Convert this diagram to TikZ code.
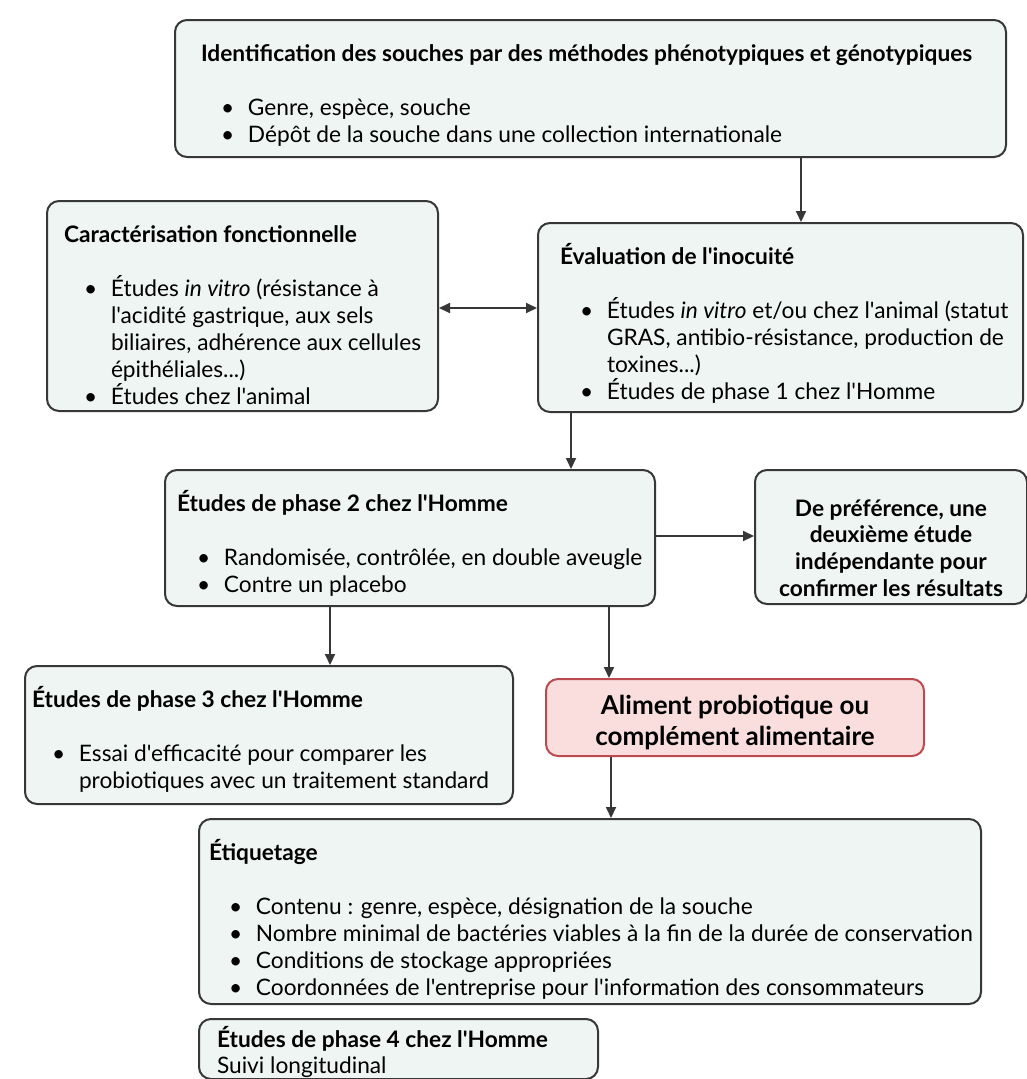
\documentclass[tikz,border=0pt]{standalone}
\usepackage{fontspec}
\setmainfont{Lato}[Ligatures=TeXOff]
\usepackage{tikz}
\usetikzlibrary{arrows.meta}
\usepackage{xcolor}
\definecolor{green_box}{RGB}{238,245,242}
\definecolor{grey_line}{RGB}{55,55,55}
\definecolor{pink_box}{RGB}{250,222,222}
\definecolor{red_line}{RGB}{185,75,80}

\newlength{\retrait}
\setlength{\retrait}{20pt}
\newcommand{\boite}[4]{\parbox[c][#2][t]{#1}{\leftskip=#3\relax\rightskip=0pt plus 1fil\relax\vspace*{20pt}#4}}
\newcommand{\titre}[1]{\rule{0pt}{21pt}\textbf{#1}\par\vspace{28pt}}
\newcommand{\puce}{\par\hangindent=\dimexpr\retrait+27pt\relax\hangafter=1\noindent\hspace*{\retrait}\makebox[27pt][l]{\textbullet}}

\begin{document}
\begin{tikzpicture}[->,>={Triangle[length=11pt,width=10pt]},line width=2pt,x=1pt,y=-1pt,
                    font=\fontsize{22.7}{26.8}\selectfont,color=grey_line]
    \tikzstyle{etape}=[draw=grey_line,fill=green_box,rounded corners=12pt,
                       inner sep=0pt,anchor=north west,text=black,line width=2pt]
    \tikzstyle{final}=[etape,draw=red_line,fill=pink_box]
    \useasboundingbox (0,0) rectangle (1027,1079);

    \node[etape] (Ident) at (174,19) {\boite{831pt}{137pt}{26pt}{%
        \titre{Identification des souches par des méthodes phénotypiques et génotypiques}
        \puce Genre, espèce, souche
        \puce Dépôt de la souche dans une collection internationale}};
    \node[etape] (Carac) at (46,200) {\boite{391pt}{210pt}{17pt}{%
        \titre{Caractérisation fonctionnelle}
        \puce Études \textit{in vitro} (résistance à\\ l'acidité gastrique, aux sels\\ biliaires, adhérence aux cellules\\ épithéliales...)
        \puce Études chez l'animal}};
    \node[etape] (Eval) at (537,222) {\boite{485pt}{189pt}{22pt}{%
        \titre{Évaluation de l'inocuité}
        \puce Études \textit{in vitro} et/ou chez l'animal (statut\\ GRAS, antibio-résistance, production de\\ toxines...)
        \puce Études de phase 1 chez l'Homme}};
    \node[etape] (Phase2) at (164,469) {\boite{490pt}{136pt}{12pt}{%
        \titre{Études de phase 2 chez l'Homme}
        \puce Randomisée, contrôlée, en double aveugle
        \puce Contre un placebo}};
    \node[etape] (Pref) at (754,469) {\parbox[c][134pt][t]{272pt}{\centering\bfseries
        \fontsize{22.7}{26.7}\selectfont\vspace*{25pt}%
        \rule{0pt}{21pt}De préférence, une\\ deuxième étude\\ indépendante pour\\ confirmer les résultats}};
    \node[etape] (Phase3) at (24,665) {\boite{488pt}{138pt}{7pt}{%
        \titre{Études de phase 3 chez l'Homme}
        \puce Essai d'efficacité pour comparer les\\ probiotiques avec un traitement standard}};
    \node[final] (Aliment) at (545,678) {\parbox[c][77pt][t]{378pt}{\centering\bfseries
        \fontsize{26}{31}\selectfont\vspace*{11pt}%
        \rule{0pt}{24pt}Aliment probiotique ou\\ complément alimentaire}};
    \node[etape] (Etiq) at (198,818) {\boite{782pt}{185pt}{10pt}{%
        \titre{Étiquetage}
        \puce Contenu : genre, espèce, désignation de la souche
        \puce Nombre minimal de bactéries viables à la fin de la durée de conservation
        \puce Conditions de stockage appropriées
        \puce Coordonnées de l'entreprise pour l'information des consommateurs}};
    \node[etape] (Phase4) at (198,1018) {\parbox[c][60pt][t]{399pt}{\leftskip=18pt\vspace*{7pt}%
        \rule{0pt}{21pt}\textbf{Études de phase 4 chez l'Homme}\\ Suivi longitudinal}};

    % fleches
    \path (Ident.south -| 801,0) edge (Eval.north -| 801,0)
          (Eval.south -| 571,0) edge (Phase2.north -| 571,0)
          (Phase2.east |- 0,536) edge (Pref.west |- 0,536)
          (Phase2.south -| 330,0) edge (Phase3.north -| 330,0)
          (Phase2.south -| 609,0) edge (Aliment.north -| 609,0)
          (Aliment.south -| 611,0) edge (Etiq.north -| 611,0);
    \path[<->] (Carac.east |- 0,308) edge (Eval.west |- 0,308);
\end{tikzpicture}
\end{document}
